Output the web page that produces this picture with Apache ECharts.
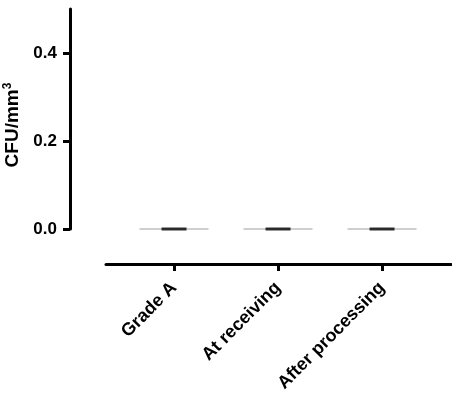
<!DOCTYPE html>
<html>
<head>
<meta charset="utf-8">
<script src="https://cdn.jsdelivr.net/npm/echarts@6/dist/echarts.min.js"></script>
<style>
html,body{margin:0;padding:0;background:#fff;}
#chart{width:452px;height:417px;}
</style>
</head>
<body>
<div id="chart"></div>
<script>
const categories = ['Grade A', 'At receiving', 'After processing'];
const meanValues = [0, 0, 0];
const pointValues = [0, 0, 0];
const yTicks = [0, 0.2, 0.4];

const chart = echarts.init(document.getElementById('chart'), null, {renderer: 'canvas'});
const FONT = '"Liberation Sans", Arial, sans-serif';
const catIdx = categories.map((c, i) => i);

chart.setOption({
  animation: false,
  backgroundColor: '#fff',
  grid: {left: 106, right: 1, top: 9, bottom: 188, containLabel: false, outerBoundsMode: 'none'},
  xAxis: {
    type: 'value',
    min: -0.654,
    max: 2.663,
    offset: 35,
    splitLine: {show: false},
    axisLine: {show: true, onZero: false, lineStyle: {color: '#000', width: 3}},
    axisTick: {show: true, customValues: catIdx, length: 7, lineStyle: {color: '#000', width: 3}},
    axisLabel: {
      customValues: catIdx,
      rotate: 45,
      margin: 21,
      color: '#000',
      fontFamily: FONT,
      fontWeight: 'bold',
      fontSize: 18,
      formatter: v => categories[Math.round(v)]
    }
  },
  yAxis: {
    type: 'value',
    min: 0,
    max: 0.5,
    interval: 0.2,
    offset: 36,
    splitLine: {show: false},
    axisLine: {show: true, onZero: false, lineStyle: {color: '#000', width: 3}},
    axisTick: {show: true, length: 7, lineStyle: {color: '#000', width: 3},
      customValues: yTicks},
    axisLabel: {
      customValues: yTicks,
      margin: 13,
      color: '#000',
      fontFamily: FONT,
      fontWeight: 'bold',
      fontSize: 17,
      formatter: v => v.toFixed(1)
    },
    name: '{a|CFU/mm}{b|3}',
    nameLocation: 'middle',
    nameGap: 45,
    nameTextStyle: {
      color: '#000',
      fontFamily: FONT,
      fontWeight: 'bold',
      fontSize: 19,
      padding: [0, 12, 0, 0],
      rich: {
        a: {fontFamily: FONT, fontWeight: 'bold', fontSize: 19, color: '#000', lineHeight: 22},
        b: {fontFamily: FONT, fontWeight: 'bold', fontSize: 12, color: '#000', verticalAlign: 'top', lineHeight: 13}
      }
    }
  },
  series: [
    {
      type: 'scatter',
      symbol: 'rect',
      symbolSize: [69, 1],
      itemStyle: {color: '#888'},
      data: meanValues.map((v, i) => [i, v]),
      z: 2
    },
    {
      type: 'scatter',
      symbol: 'rect',
      symbolSize: [25, 3],
      itemStyle: {color: '#000'},
      data: pointValues.map((v, i) => [i, v]),
      z: 3
    }
  ]
});
</script>
</body>
</html>
